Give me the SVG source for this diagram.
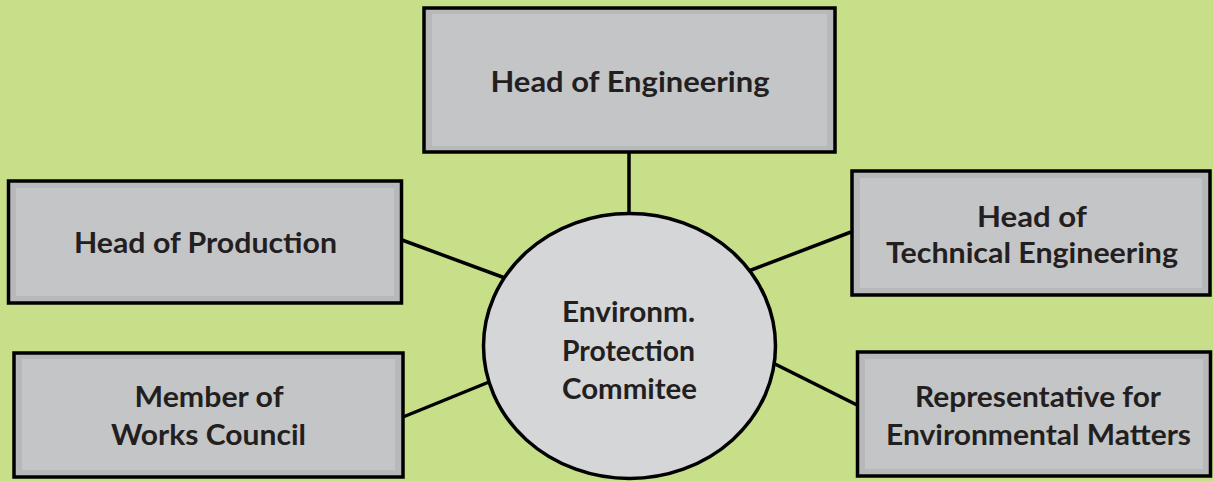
<svg xmlns="http://www.w3.org/2000/svg" width="1213" height="481" viewBox="0 0 1213 481">
  <style>
    .frame { fill: #b7b8ba; stroke: #000; stroke-width: 3.5; }
    .face { fill: #c4c5c7; }
    .hub { fill: #d5d6d8; stroke: #000; stroke-width: 3.5; }
    .link { stroke: #000; stroke-width: 3.5; fill: none; }
    .lbl { font-family: Lato, "Liberation Sans", sans-serif; font-weight: 700; font-size: 28.5px; fill: #231f20; text-anchor: middle; }
  </style>
  <rect width="1213" height="481" fill="#c8df8a"/>

  <g id="connectors">
    <line class="link" x1="629" y1="153" x2="629" y2="214"/>
    <line class="link" x1="402" y1="240" x2="505" y2="278"/>
    <line class="link" x1="403" y1="417" x2="489" y2="382"/>
    <line class="link" x1="851" y1="232" x2="746" y2="272"/>
    <line class="link" x1="857" y1="405" x2="773" y2="363"/>
  </g>

  <g id="head-engineering">
    <rect class="frame" x="424" y="8" width="411" height="144"/>
    <rect class="face" x="432" y="14" width="395" height="132"/>
    <text class="lbl" x="630" y="92" textLength="279" lengthAdjust="spacingAndGlyphs">Head of Engineering</text>
  </g>

  <g id="head-production">
    <rect class="frame" x="8.5" y="181" width="393" height="122"/>
    <rect class="face" x="16" y="188" width="378" height="108"/>
    <text class="lbl" x="205.5" y="253" textLength="263" lengthAdjust="spacingAndGlyphs">Head of Production</text>
  </g>

  <g id="works-council">
    <rect class="frame" x="14" y="353" width="389" height="124"/>
    <rect class="face" x="22" y="359" width="373" height="111"/>
    <text class="lbl" x="209" y="407" textLength="149" lengthAdjust="spacingAndGlyphs">Member of</text>
    <text class="lbl" x="208.5" y="445" textLength="195" lengthAdjust="spacingAndGlyphs">Works Council</text>
  </g>

  <g id="technical-engineering">
    <rect class="frame" x="852" y="171" width="358" height="124"/>
    <rect class="face" x="860" y="178" width="342" height="110"/>
    <text class="lbl" x="1032" y="227" textLength="110" lengthAdjust="spacingAndGlyphs">Head of</text>
    <text class="lbl" x="1032" y="263" textLength="292" lengthAdjust="spacingAndGlyphs">Technical Engineering</text>
  </g>

  <g id="environmental-matters">
    <rect class="frame" x="857.5" y="352" width="353" height="124"/>
    <rect class="face" x="865" y="359" width="338" height="110"/>
    <text class="lbl" x="1038" y="407" textLength="246" lengthAdjust="spacingAndGlyphs">Representative for</text>
    <text class="lbl" x="1038.5" y="445" textLength="305" lengthAdjust="spacingAndGlyphs">Environmental Matters</text>
  </g>

  <g id="committee">
    <ellipse class="hub" cx="629.5" cy="346" rx="146" ry="132.5"/>
    <text class="lbl" x="628.5" y="322" textLength="133" lengthAdjust="spacingAndGlyphs">Environm.</text>
    <text class="lbl" x="628.5" y="361" textLength="133" lengthAdjust="spacingAndGlyphs">Protection</text>
    <text class="lbl" x="629.5" y="399" textLength="135" lengthAdjust="spacingAndGlyphs">Commitee</text>
  </g>
</svg>
